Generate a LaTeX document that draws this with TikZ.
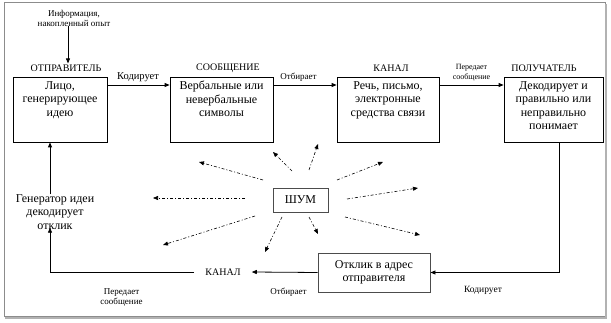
\documentclass[tikz,border=0pt]{standalone}
\usepackage{fontspec}
\setmainfont{Liberation Serif}
\newfontfamily\tnr{Liberation Serif}
\usetikzlibrary{arrows.meta}
\begin{document}
\begin{tikzpicture}[x=1pt,y=-1pt,
  every node/.style={font=\tnr},
  box/.style={draw=black,line width=0.8pt,inner sep=0pt},
  gbox/.style={draw=black!70,line width=0.9pt,inner sep=0pt},
  boxtext/.style={align=center,inner sep=0pt,font=\tnr\fontsize{12}{13.5}\selectfont},
  ttl/.style={inner sep=1pt,font=\tnr\fontsize{10}{11}\selectfont},
  lbl/.style={inner sep=0pt,align=center,font=\tnr\fontsize{9}{10}\selectfont},
  slbl/.style={inner sep=0pt,align=center,font=\tnr\fontsize{8}{10}\selectfont},
  arr/.style={line width=0.8pt,-{Triangle[length=5pt,width=4pt]}},
  narr/.style={line width=0.6pt,dash pattern=on 3pt off 2pt on 1pt off 2pt,-{Triangle[length=5pt,width=4pt]}}]
\useasboundingbox (0,0) rectangle (611,323);
\draw[black!45,line width=1pt] (4,3) rectangle (605,317);
\draw[black!30,line width=1.2pt] (5,318) -- (606,318) -- (606,4);

% boxes
\node[box,minimum width=94pt,minimum height=65pt] (snd) at (60,109.5) {};
\node[box,minimum width=103pt,minimum height=65pt] (msg) at (221.5,109.5) {};
\node[box,minimum width=102pt,minimum height=65pt] (ch) at (388,109.5) {};
\node[box,minimum width=99pt,minimum height=65pt] (rcv) at (553.5,109.5) {};
\node[gbox,minimum width=112pt,minimum height=39pt] (resp) at (374,272.5) {};
\node[gbox,minimum width=55pt,minimum height=24pt,font=\tnr\fontsize{12}{13.5}\selectfont] (noise) at (300.5,200) {ШУМ};

% box texts
\node[boxtext,anchor=north] (sndt) at (60,81) {Лицо,\\генерирующее\\идею};
\node[boxtext,anchor=north] (msgt) at (221.5,81) {Вербальные или\\невербальные\\символы};
\node[boxtext,anchor=north] (cht) at (388,81) {Речь, письмо,\\электронные\\средства связи};
\node[boxtext,anchor=north] (rcvt) at (553.5,81) {Декодирует и\\правильно или\\неправильно\\понимает};
\node[boxtext] (respt) at (374,272.5) {Отклик в адрес\\отправителя};
\node[boxtext] (gen) at (55,212) {Генератор идеи\\декодирует\\отклик};

% titles
\node[ttl] (sndttl) at (66,68) {ОТПРАВИТЕЛЬ};
\node[ttl] (msgttl) at (228,68) {СООБЩЕНИЕ};
\node[ttl] (chttl) at (391,68) {КАНАЛ};
\node[ttl] (rcvttl) at (544,68) {ПОЛУЧАТЕЛЬ};
\node[ttl,inner xsep=11pt] (ch2) at (223,272) {КАНАЛ};

% labels
\node[lbl] (info) at (74,18) {Информация,\\накопленный опыт};
\node[lbl,font=\tnr\fontsize{10.5}{11}\selectfont] (l1) at (138,77) {Кодирует};
\node[lbl] (l2) at (298.5,77) {Отбирает};
\node[slbl] (l3) at (471.5,73) {Передает\\сообщение};
\node[lbl,font=\tnr\fontsize{9.5}{10}\selectfont] (l4) at (483,290) {Кодирует};
\node[lbl] (l5) at (288.5,292) {Отбирает};
\node[lbl] (l6) at (121.5,297) {Передает\\сообщение};

% main connectors
\draw[arr] ([xshift=-6pt]info.south) -- ([xshift=2pt]sndttl.north);
\draw[arr] ([yshift=24.5pt]snd.east) -- ([yshift=24.5pt]msg.west);
\draw[arr] ([yshift=24.5pt]msg.east) -- ([yshift=24.5pt]ch.west);
\draw[arr] ([yshift=24.5pt]ch.east) -- ([yshift=24.5pt]rcv.west);
\draw[arr] ([xshift=5.5pt]rcv.south) |- (resp.east);
\draw[arr] (resp.west) -- (ch2.east);
\draw[arr] (ch2.west) -| ([xshift=-5pt,yshift=2pt]gen.south);
\draw[arr] ([xshift=-5pt]gen.north) -- ([xshift=-10pt]snd.south);

% noise arrows
\foreach \i/\sx/\sy/\ex/\ey in {1/263/180/199/162, 2/292/171/273/152, 3/309/170/318/144,
  4/337/180/383/162, 5/347/199/418/188, 6/345/217/420/235, 7/309/217/318/234,
  8/282/217/265/252, 9/255/216/163/245, 10/245/198/153/198}{
  \coordinate (ns\i) at (\sx,\sy);
  \coordinate (ne\i) at (\ex,\ey);
  \draw[narr] (ns\i) -- (ne\i);
}
\end{tikzpicture}
\end{document}
